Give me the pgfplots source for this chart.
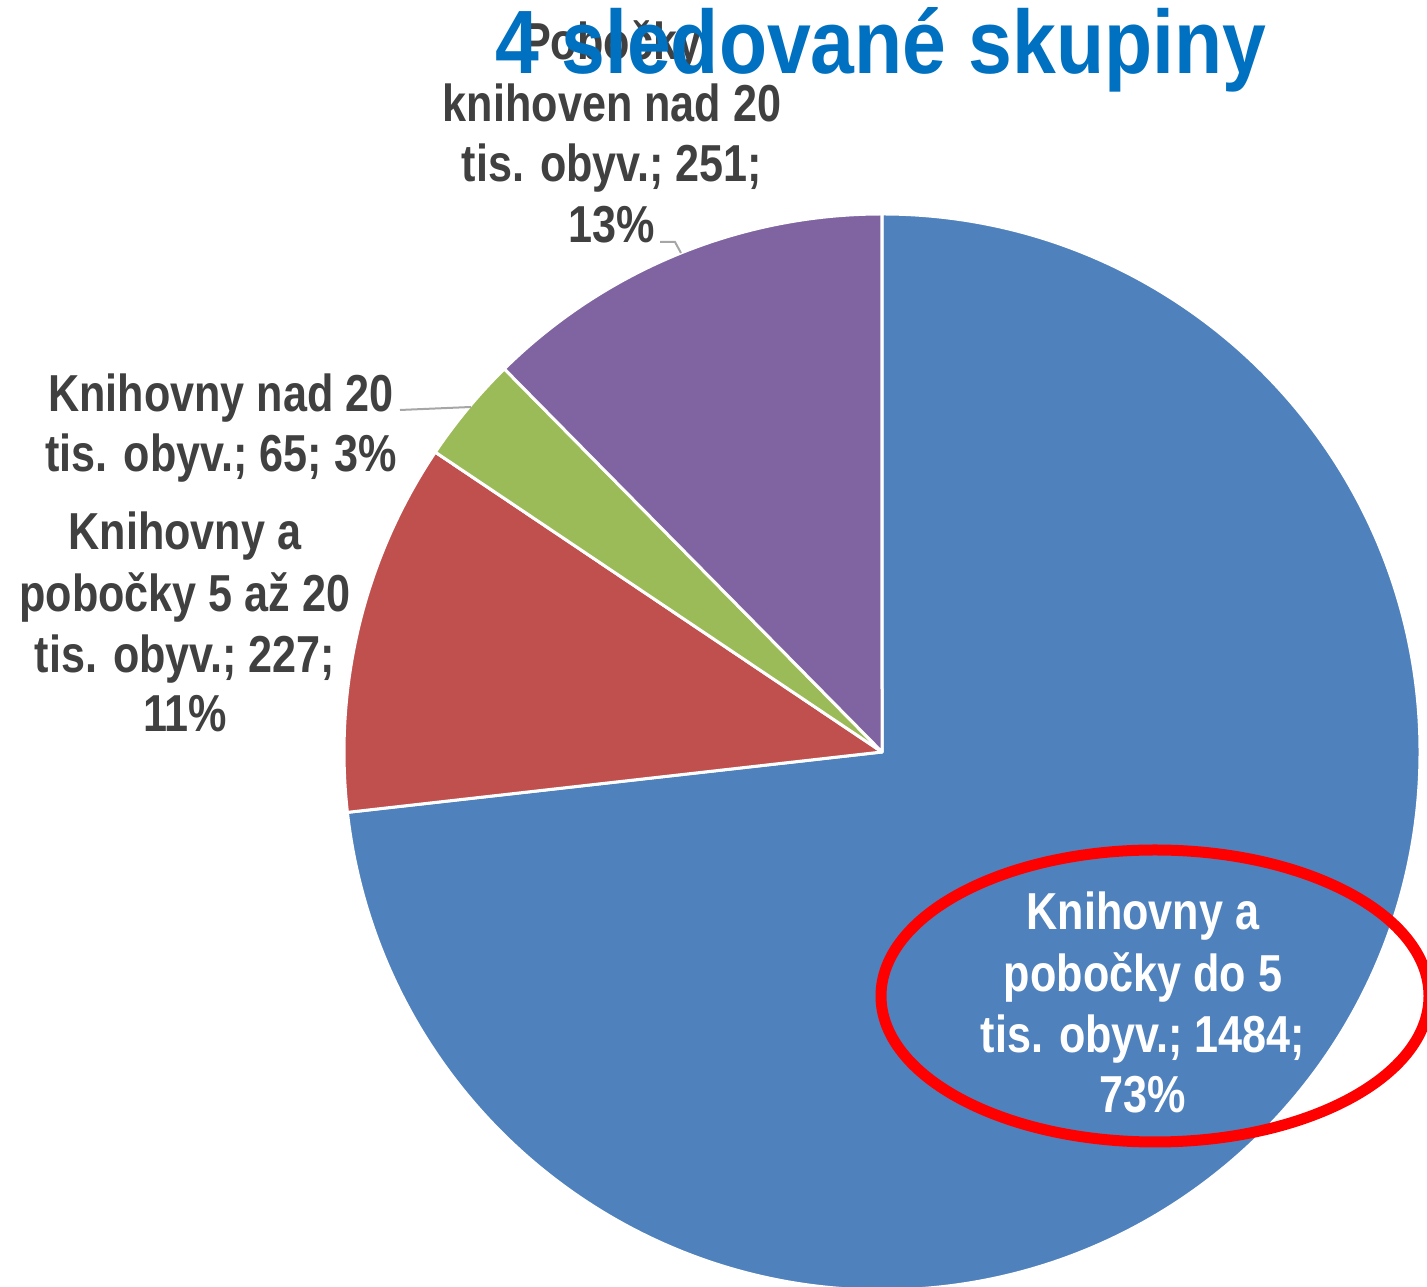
\documentclass[border=0pt]{standalone}
\usepackage{fontspec}
\setmainfont{Liberation Sans}
\newfontfamily\lblfont{Liberation Sans}[FakeStretch=0.83]
\newfontfamily\ttlfont{Liberation Sans}[FakeStretch=0.875]
\usepackage{pgfplots}
\pgfplotsset{compat=1.18}
\definecolor{cBlue}{HTML}{4F81BD}
\definecolor{cRed}{HTML}{C0504D}
\definecolor{cGreen}{HTML}{9BBB59}
\definecolor{cPurple}{HTML}{8064A2}
\definecolor{cText}{HTML}{404040}
\definecolor{cTitle}{HTML}{0070C0}
\definecolor{cLead}{HTML}{A6A6A6}
\begin{document}
\begin{tikzpicture}
% values of the four groups
\def\vA{1484}\def\vB{227}\def\vC{65}\def\vD{251}
\pgfmathsetmacro\tot{\vA+\vB+\vC+\vD}
\pgfmathsetmacro\aA{90}
\pgfmathsetmacro\aB{\aA-\vA/\tot*360}
\pgfmathsetmacro\aC{\aB-\vB/\tot*360}
\pgfmathsetmacro\aD{\aC-\vC/\tot*360}
\pgfmathsetmacro\aE{\aD-\vD/\tot*360}
\begin{axis}[x=1pt,y=1pt,xmin=0,xmax=1427,ymin=0,ymax=1287,hide axis,clip=false]
\coordinate (SW) at (axis cs:0,0);
\coordinate (NE) at (axis cs:1427,1287);
\fill[cBlue,draw=white,line width=3pt,line join=round] (axis cs:882,535) -- ++(\aA:538pt) arc[start angle=\aA,end angle=\aB,radius=538pt] -- cycle;
\fill[cRed,draw=white,line width=3pt,line join=round] (axis cs:882,535) -- ++(\aB:538pt) arc[start angle=\aB,end angle=\aC,radius=538pt] -- cycle;
\fill[cGreen,draw=white,line width=3pt,line join=round] (axis cs:882,535) -- ++(\aC:538pt) arc[start angle=\aC,end angle=\aD,radius=538pt] -- cycle;
\fill[cPurple,draw=white,line width=3pt,line join=round] (axis cs:882,535) -- ++(\aD:538pt) arc[start angle=\aD,end angle=\aE,radius=538pt] -- cycle;
% leader lines
\draw[cLead,line width=2pt] (axis cs:400,877) -- (axis cs:471,880);
\draw[cLead,line width=2pt] (axis cs:660,1045) -- (axis cs:675,1045) -- (axis cs:681,1034);
% labels
\tikzset{lbl/.style={anchor=base,inner sep=0pt,font=\lblfont\bfseries\fontsize{52}{60}\selectfont,text=cText}}
\node[lbl] at (axis cs:612,1227) {Pobočky};
\node[lbl] at (axis cs:612,1165) {knihoven nad 20};
\node[lbl] at (axis cs:612,1105) {tis. obyv.; 251;};
\node[lbl] at (axis cs:612,1044) {13\%};
\node[lbl] at (axis cs:221,875) {Knihovny nad 20};
\node[lbl] at (axis cs:221,815) {tis. obyv.; 65; 3\%};
\node[lbl] at (axis cs:185,737) {Knihovny a};
\node[lbl] at (axis cs:185,675) {pobočky 5 až 20};
\node[lbl] at (axis cs:185,614) {tis. obyv.; 227;};
\node[lbl] at (axis cs:185,555) {11\%};
\node[lbl,text=white] at (axis cs:1143,357) {Knihovny a};
\node[lbl,text=white] at (axis cs:1143,295) {pobočky do 5};
\node[lbl,text=white] at (axis cs:1143,234) {tis. obyv.; 1484;};
\node[lbl,text=white] at (axis cs:1143,174) {73\%};
% highlight ellipse
\draw[red,line width=11pt] (axis cs:1155,291) ellipse[x radius=274pt,y radius=146pt];
% title
\node[anchor=base,inner sep=0pt,font=\ttlfont\bfseries\fontsize{90}{98}\selectfont,text=cTitle] at (axis cs:881,1213) {4 sledované skupiny};
\end{axis}
\pgfresetboundingbox
\path (SW) rectangle (NE);
\end{tikzpicture}
\end{document}
